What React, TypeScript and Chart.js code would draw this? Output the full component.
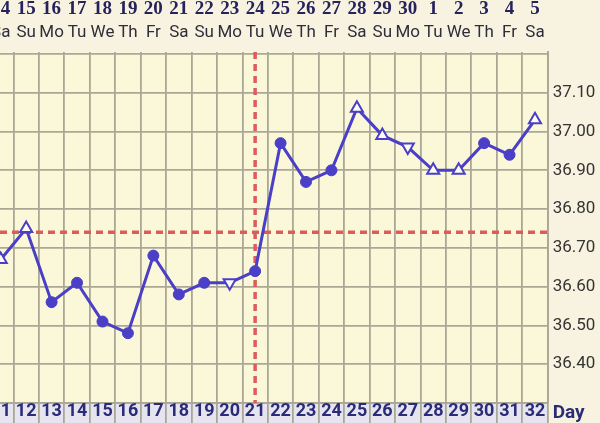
import React, { useEffect, useRef } from 'react';
import { Chart, registerables } from 'chart.js';

Chart.register(...registerables);

// ---- data ----
const cycleDays = ['11', '12', '13', '14', '15', '16', '17', '18', '19', '20', '21', '22', '23', '24', '25', '26', '27', '28', '29', '30', '31', '32'];
const dates = ['14', '15', '16', '17', '18', '19', '20', '21', '22', '23', '24', '25', '26', '27', '28', '29', '30', '1', '2', '3', '4', '5'];
const weekdays = ['Sa', 'Su', 'Mo', 'Tu', 'We', 'Th', 'Fr', 'Sa', 'Su', 'Mo', 'Tu', 'We', 'Th', 'Fr', 'Sa', 'Su', 'Mo', 'Tu', 'We', 'Th', 'Fr', 'Sa'];
const temperatures = [36.67, 36.75, 36.56, 36.61, 36.51, 36.48, 36.68, 36.58, 36.61, 36.61, 36.64, 36.97, 36.87, 36.90, 37.06, 36.99, 36.96, 36.90, 36.90, 36.97, 36.94, 37.03];
const markers = ['up', 'up', 'dot', 'dot', 'dot', 'dot', 'dot', 'dot', 'dot', 'down', 'dot', 'dot', 'dot', 'dot', 'up', 'up', 'down', 'up', 'up', 'dot', 'dot', 'up'];
const coverline = 36.74;
const ovulationDay = '21';
const yMin = 36.3;
const yMax = 37.205;
const yStep = 0.05;
const yLabelMin = 36.4;
const yLabelMax = 37.1;

// ---- styles ----
const PAGE_BG = '#f7f3e0';
const PLOT_BG = '#fbf8da';
const BAND_BG = '#e6e5ef';
const GRID = '#aaa794';
const LINE = '#4a3fc6';
const RED = '#dc5b5b';
const NAVY = '#2b2c78';

const noPad = (s: any) => {
  s.paddingLeft = 0;
  s.paddingRight = 0;
};

const bbtPlugin = {
  id: 'bbt',
  beforeDraw(chart: any) {
    const { ctx, chartArea: a } = chart;
    ctx.save();
    ctx.fillStyle = PLOT_BG;
    ctx.fillRect(a.left, a.top, a.right - a.left, a.bottom - a.top);
    ctx.fillStyle = BAND_BG;
    ctx.fillRect(a.left, a.bottom, a.right - a.left, chart.height - a.bottom);
    ctx.restore();
  },
  beforeDatasetsDraw(chart: any) {
    const { ctx, chartArea: a, scales } = chart;
    const yc = scales.y.getPixelForValue(coverline);
    const xo = scales.x.getPixelForValue(cycleDays.indexOf(ovulationDay));
    ctx.save();
    ctx.strokeStyle = RED;
    ctx.lineWidth = 3.5;
    ctx.setLineDash([7, 5]);
    ctx.beginPath();
    ctx.moveTo(a.left, yc);
    ctx.lineTo(a.right, yc);
    ctx.stroke();
    ctx.beginPath();
    ctx.moveTo(xo, a.top);
    ctx.lineTo(xo, a.bottom);
    ctx.stroke();
    ctx.restore();
  },
  afterDraw(chart: any) {
    const { ctx, chartArea: a } = chart;
    ctx.save();
    ctx.fillStyle = NAVY;
    ctx.font = 'bold 19px "Liberation Sans Narrow", Roboto, sans-serif';
    ctx.textAlign = 'left';
    ctx.textBaseline = 'middle';
    ctx.fillText('Day', a.right + 5, a.bottom + 10);
    ctx.restore();
  },
};

export default function App() {
  const ref = useRef<HTMLCanvasElement | null>(null);

  useEffect(() => {
    document.body.style.margin = '0';
    document.body.style.background = PAGE_BG;
    const canvas = ref.current;
    if (!canvas) return;
    const chart = new Chart(canvas, {
      type: 'line',
      data: {
        labels: cycleDays,
        datasets: [
          {
            data: temperatures,
            borderColor: LINE,
            borderWidth: 3,
            tension: 0,
            pointStyle: markers.map((m) => (m === 'dot' ? 'circle' : 'triangle')) as any,
            pointRotation: markers.map((m) => (m === 'down' ? 180 : 0)),
            pointRadius: markers.map((m) => (m === 'dot' ? 5.5 : 7)),
            pointBackgroundColor: markers.map((m) => (m === 'dot' ? LINE : '#fdfcf3')),
            pointBorderColor: LINE,
            pointBorderWidth: markers.map((m) => (m === 'dot' ? 1 : 2)),
          } as any,
        ],
      },
      options: {
        animation: false,
        responsive: false,
        layout: { padding: 0 },
        plugins: { legend: { display: false }, tooltip: { enabled: false } },
        scales: {
          x: {
            type: 'category',
            position: 'bottom',
            offset: true,
            grid: { color: GRID, lineWidth: 1.8, offset: true, drawTicks: true, tickLength: 20 },
            border: { color: GRID, width: 1.8 },
            ticks: {
              autoSkip: false,
              maxRotation: 0,
              minRotation: 0,
              color: NAVY,
              padding: -20.5,
              font: { family: '"Liberation Sans Narrow", Roboto, sans-serif', size: 18, weight: 'bold', lineHeight: 1 },
            },
            afterFit: (s: any) => {
              s.height = 20;
              noPad(s);
            },
          },
          xWeek: {
            type: 'category',
            position: 'top',
            labels: weekdays,
            offset: true,
            weight: 0,
            grid: { display: false, drawTicks: false },
            border: { display: false },
            ticks: {
              autoSkip: false,
              maxRotation: 0,
              minRotation: 0,
              color: '#2e2e3a',
              padding: 11,
              font: { family: 'Roboto, sans-serif', size: 17, lineHeight: 1 },
            },
            afterFit: (s: any) => {
              s.height = 32;
              noPad(s);
            },
          },
          xDate: {
            type: 'category',
            position: 'top',
            labels: dates,
            offset: true,
            weight: 1,
            grid: { display: false, drawTicks: false },
            border: { display: false },
            ticks: {
              autoSkip: false,
              maxRotation: 0,
              minRotation: 0,
              color: '#26225c',
              padding: 1,
              font: { family: '"Liberation Serif", serif', size: 19, weight: 'bold', lineHeight: 1 },
            },
            afterFit: (s: any) => {
              s.height = 20;
              noPad(s);
            },
          },
          y: {
            type: 'linear',
            position: 'right',
            min: yMin,
            max: yMax,
            grid: { color: GRID, lineWidth: 1.8, drawTicks: false },
            border: { color: GRID, width: 1.8 },
            ticks: {
              stepSize: yStep,
              includeBounds: false,
              padding: 5,
              color: '#333333',
              font: { family: 'Roboto, sans-serif', size: 17 },
              callback: (v: any) => {
                const n = Number(v);
                const c = Math.round(n * 100);
                if (c % 10 !== 0 || n < yLabelMin - 0.001 || n > yLabelMax + 0.001) return '';
                return n.toFixed(2);
              },
            },
            afterFit: (s: any) => {
              s.width = 52.3;
            },
          },
        },
      } as any,
      plugins: [bbtPlugin],
    });
    return () => chart.destroy();
  }, []);

  return (
    <div style={{ position: 'relative', width: 600, height: 423, overflow: 'hidden', background: PAGE_BG }}>
      <canvas ref={ref} width={621} height={423} style={{ position: 'absolute', left: -21, top: 0 }} />
    </div>
  );
}
